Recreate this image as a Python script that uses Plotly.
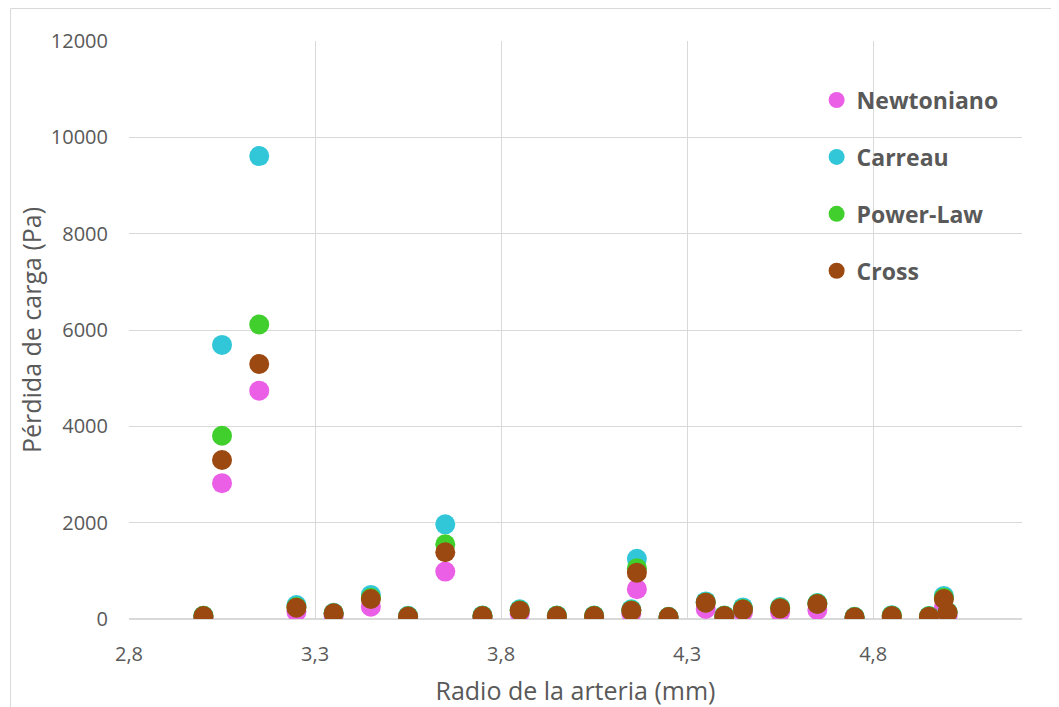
import plotly.graph_objects as go

radio = [3.0, 3.05, 3.15, 3.25, 3.35, 3.45, 3.55, 3.65, 3.75, 3.85, 3.95, 4.05,
         4.15, 4.165, 4.25, 4.35, 4.4, 4.45, 4.55, 4.65, 4.75, 4.85, 4.95, 4.99, 5.0]

newtoniano = [30, 2820, 4740, 150, 70, 255, 35, 985, 40, 118, 40, 40,
              118, 620, 25, 208, 40, 140, 140, 187, 25, 40, 30, 230, 80]
carreau = [70, 5690, 9610, 290, 130, 500, 65, 1965, 75, 200, 75, 75,
           200, 1250, 45, 365, 75, 240, 250, 330, 45, 80, 60, 480, 150]
power_law = [65, 3805, 6115, 250, 120, 440, 55, 1550, 65, 180, 65, 65,
             180, 1055, 40, 345, 65, 210, 230, 320, 40, 70, 55, 440, 140]
cross = [62, 3300, 5295, 235, 118, 415, 50, 1385, 62, 173, 62, 62,
         173, 962, 40, 339, 62, 195, 220, 311, 35, 62, 48, 415, 133]

series = [
    ("Newtoniano", newtoniano, "#EB5FE7"),
    ("Carreau", carreau, "#32C7D8"),
    ("Power-Law", power_law, "#40CF2C"),
    ("Cross", cross, "#9C4811"),
]

FONT = "Open Sans"
GRAY = "#595959"

L, R, T, B = 120.5, 45, 33, 96
W, H = 1059, 707
PW, PH = W - L - R, H - T - B

fig = go.Figure()
for name, vals, col in series:
    fig.add_trace(go.Scatter(
        x=radio, y=vals, mode="markers", name=name, legendgroup=name,
        marker=dict(size=20, color=col, line=dict(width=0)),
    ))

fig.update_layout(
    width=W, height=H,
    paper_bgcolor="white", plot_bgcolor="white",
    margin=dict(l=L, r=R, t=T, b=B, autoexpand=False),
    font=dict(family=FONT, color=GRAY),
    showlegend=True,
    legend=dict(
        x=0.77, y=0.935, xanchor="left", yanchor="top",
        bgcolor="rgba(0,0,0,0)",
        font=dict(family=FONT, size=23, color=GRAY, weight="bold"),
        tracegroupgap=24, itemsizing="trace",
    ),
    xaxis=dict(
        range=[2.8, 5.2], tick0=2.8, dtick=0.5, tickformat=".1f",
        showgrid=True, gridcolor="#D9D9D9", gridwidth=1.3,
        zeroline=False, showline=False, ticks="",
        ticklabelstandoff=21,
        tickfont=dict(family=FONT, size=20, color=GRAY),
        title=dict(text="Radio de la arteria (mm)", font=dict(family=FONT, size=25, color=GRAY), standoff=16),
    ),
    yaxis=dict(
        range=[0, 12000], dtick=2000, tickformat="d",
        showgrid=True, gridcolor="#D9D9D9", gridwidth=1.3,
        zeroline=True, zerolinecolor="#D9D9D9", zerolinewidth=1.8, showline=False, ticks="",
        ticklabelstandoff=20,
        tickfont=dict(family=FONT, size=20, color=GRAY),
        title=dict(text="Pérdida de carga (Pa)", font=dict(family=FONT, size=25, color=GRAY), standoff=2),
    ),
    separators=", ",
    shapes=[dict(type="rect", xref="paper", yref="paper",
                 x0=(2 - L) / PW, x1=(1050 - L) / PW,
                 y0=-(B + 20) / PH, y1=(PH + T - 0.5) / PH,
                 line=dict(color="#D9D9D9", width=1), fillcolor="rgba(0,0,0,0)", layer="below")],
)

fig.write_html("out.html")
